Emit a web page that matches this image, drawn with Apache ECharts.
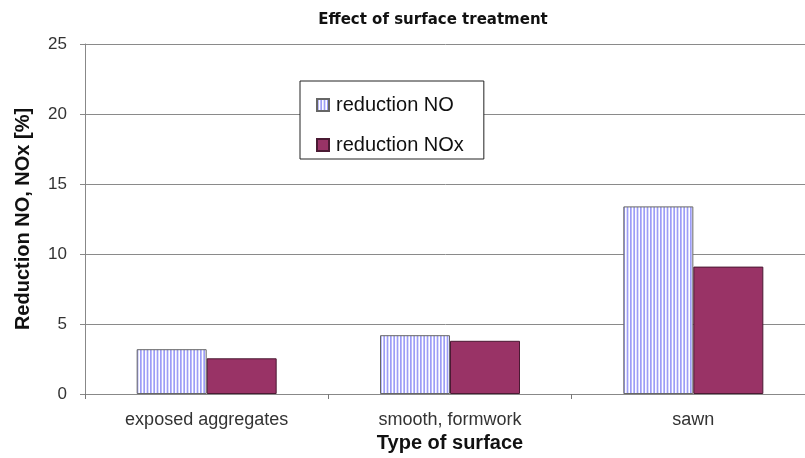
<!DOCTYPE html>
<html>
<head>
<meta charset="utf-8">
<script src="https://cdn.jsdelivr.net/npm/echarts@6/dist/echarts.min.js"></script>
<style>
  html, body { margin: 0; padding: 0; background: #fff; }
  #chart { width: 805px; height: 458px; }
</style>
</head>
<body>
<div id="chart"></div>
<script>
// Surface types and measured reductions (%)
const categories = ['exposed aggregates', 'smooth, formwork', 'sawn'];
const reductionNO = [3.2, 4.2, 13.4];
const reductionNOx = [2.55, 3.8, 9.1];
const yTicks = [0, 5, 10, 15, 20, 25];

// Vertical-stripe fill for the NO bars
function stripePattern() {
  const c = document.createElement('canvas');
  c.width = 10; c.height = 4;
  const g = c.getContext('2d');
  g.fillStyle = '#ffffff';
  g.fillRect(0, 0, 10, 4);
  g.fillStyle = '#9d9df7';
  for (let i = 0; i < 3; i++) g.fillRect(i * 10 / 3, 0, 1.7, 4);
  return { image: c, repeat: 'repeat' };
}

const chart = echarts.init(document.getElementById('chart'), null, { renderer: 'canvas' });
const font = 'Arial, "Liberation Sans", sans-serif';

chart.setOption({
  backgroundColor: '#ffffff',
  animation: false,
  title: {
    text: 'Effect of surface treatment',
    left: 428, top: 8, textAlign: 'center',
    textStyle: { fontFamily: '"DejaVu Sans", sans-serif', fontWeight: 'bold', fontSize: 15, color: '#111' }
  },
  legend: {
    orient: 'vertical',
    left: 300, top: 81,
    padding: [14, 20, 4, 16],
    itemGap: 20,
    itemWidth: 12, itemHeight: 12,
    icon: 'rect',
    backgroundColor: '#ffffff',
    borderColor: '#222', borderWidth: 1,
    textStyle: { fontFamily: font, fontSize: 20, color: '#111', padding: [0, 0, 0, 2] },
    data: ['reduction NO', 'reduction NOx']
  },
  grid: { left: 85, top: 44, right: -10, height: 350, containLabel: false, outerBoundsMode: 'none' },
  xAxis: {
    type: 'category',
    data: categories,
    name: 'Type of surface',
    nameLocation: 'middle',
    nameGap: 38,
    nameTextStyle: { fontFamily: font, fontWeight: 'bold', fontSize: 20, color: '#111' },
    axisLine: { lineStyle: { color: '#888', width: 1 } },
    axisTick: { show: true, length: 5, lineStyle: { color: '#777' } },
    axisLabel: { fontFamily: font, fontSize: 18, color: '#333', margin: 17 }
  },
  yAxis: {
    type: 'value',
    min: yTicks[0], max: yTicks[yTicks.length - 1], interval: 5,
    name: 'Reduction NO, NOx [%]',
    nameLocation: 'middle',
    nameGap: 52,
    nameTextStyle: { fontFamily: font, fontWeight: 'bold', fontSize: 20, color: '#111' },
    axisLine: { show: true, lineStyle: { color: '#888', width: 1 } },
    axisTick: { show: true, length: 5, lineStyle: { color: '#888' } },
    axisLabel: { fontFamily: font, fontSize: 17, color: '#333', margin: 18 },
    splitLine: { lineStyle: { color: '#8a8a8a', width: 1 } }
  },
  series: [
    {
      name: 'reduction NO',
      type: 'bar',
      data: reductionNO,
      barWidth: 70,
      barGap: '0%',
      itemStyle: { color: stripePattern(), borderColor: '#666', borderWidth: 1 }
    },
    {
      name: 'reduction NOx',
      type: 'bar',
      data: reductionNOx,
      barWidth: 70,
      itemStyle: { color: '#993366', borderColor: '#4a1a33', borderWidth: 1 }
    }
  ]
});
</script>
</body>
</html>
